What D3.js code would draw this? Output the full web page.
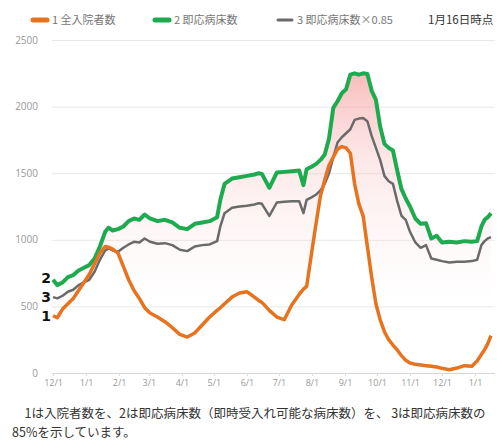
<!DOCTYPE html>
<html>
<head>
<meta charset="utf-8">
<script src="https://cdn.jsdelivr.net/npm/d3@7"></script>
<style>
  body { margin: 0; background: #fff; }
  svg { display: block; }
</style>
</head>
<body>
<div id="chart"></div>
<script>
// data (roughly every 4-7 days)
var dates = [
  "2020-12-01","2020-12-05","2020-12-10","2020-12-15","2020-12-20","2020-12-25","2020-12-30","2021-01-04","2021-01-09","2021-01-14",
  "2021-01-19","2021-01-22","2021-01-26","2021-01-31","2021-02-05","2021-02-10","2021-02-15","2021-02-20","2021-02-25","2021-03-02",
  "2021-03-09","2021-03-16","2021-03-23","2021-03-30","2021-04-06","2021-04-13","2021-04-20","2021-04-27","2021-05-04","2021-05-07",
  "2021-05-11","2021-05-18","2021-05-25","2021-06-01","2021-06-08","2021-06-12","2021-06-15","2021-06-22","2021-06-29","2021-07-06",
  "2021-07-13","2021-07-20","2021-07-24","2021-07-27","2021-08-01","2021-08-05","2021-08-09","2021-08-13","2021-08-17","2021-08-21",
  "2021-08-25","2021-08-29","2021-09-02","2021-09-06","2021-09-10","2021-09-14","2021-09-18","2021-09-22","2021-09-26","2021-09-30",
  "2021-10-04","2021-10-08","2021-10-12","2021-10-16","2021-10-20","2021-10-24","2021-10-28","2021-11-01","2021-11-06","2021-11-11",
  "2021-11-16","2021-11-21","2021-11-26","2021-12-01","2021-12-08","2021-12-15","2021-12-22","2021-12-29","2022-01-03","2022-01-07",
  "2022-01-10","2022-01-13","2022-01-16"
];
var inpatients = [
  430,415,480,520,560,620,680,740,820,900,
  950,945,930,900,800,700,620,560,490,450,
  420,385,340,290,270,300,360,420,470,490,
  520,570,600,610,570,545,530,470,420,400,
  510,590,630,650,920,1130,1330,1450,1560,1620,
  1680,1700,1690,1650,1420,1270,1180,950,720,520,
  400,310,250,210,173,130,95,75,65,60,
  55,50,45,35,25,37,55,50,90,140,
  175,220,280
];
var beds = [
  700,660,680,720,735,770,790,810,860,950,
  1060,1090,1070,1080,1100,1140,1160,1150,1190,1160,
  1140,1150,1130,1090,1080,1120,1130,1140,1170,1300,
  1420,1460,1470,1480,1490,1500,1495,1390,1505,1510,
  1515,1520,1410,1530,1550,1570,1600,1640,1760,1990,
  2040,2100,2130,2240,2250,2240,2250,2245,2120,2050,
  1850,1720,1690,1670,1520,1380,1310,1250,1160,1120,
  1125,1010,1030,980,985,980,990,985,990,1100,
  1150,1170,1200
];
var beds85 = [
  570,560,580,610,625,660,680,700,760,850,
  920,935,920,910,940,965,985,980,1010,985,
  970,975,960,925,915,950,960,965,990,1100,
  1200,1240,1250,1255,1265,1275,1270,1180,1280,1285,
  1290,1290,1200,1300,1320,1340,1370,1420,1500,1620,
  1730,1770,1800,1830,1900,1910,1915,1890,1780,1690,
  1600,1480,1440,1420,1290,1180,1150,1060,980,940,
  960,860,850,840,830,835,835,840,850,960,
  990,1010,1020
];
var yTicks = [0, 500, 1000, 1500, 2000, 2500];
var seriesNames = ["1 全入院者数", "2 即応病床数", "3 即応病床数×0.85"];
var seriesColors = ["#e8731e", "#1eab50", "#6a6a6a"];
var lineLabels = ["1", "2", "3"];
var asOf = "1月16日時点";
var caption = [
  "\u30001は入院者数を、2は即応病床数（即時受入れ可能な病床数）を、 3は即応病床数の",
  "85%を示しています。"
];

var W = 497, H = 444;
var parse = d3.timeParse("%Y-%m-%d");
var rows = dates.map(function (d, i) {
  return { date: parse(d), a: inpatients[i], b: beds[i], c: beds85[i] };
});

var svg = d3.select("#chart").append("svg")
  .attr("width", W)
  .attr("height", H);

var x = d3.scaleTime()
  .domain([parse("2020-12-01"), parse("2022-01-16")])
  .range([53, 491]);
var y = d3.scaleLinear()
  .domain([0, 2500])
  .range([373, 40]);

// gridlines + y labels
svg.append("g")
  .selectAll("line")
  .data(yTicks)
  .enter()
  .append("line")
  .attr("x1", 52).attr("x2", 495)
  .attr("y1", function (d) { return y(d) + 0.5; })
  .attr("y2", function (d) { return y(d) + 0.5; })
  .attr("stroke", function (d) { return d === 0 ? "#d6d6d6" : "#e8e8e8"; })
  .attr("stroke-width", 1);

svg.append("g")
  .selectAll("text")
  .data(yTicks)
  .enter()
  .append("text")
  .attr("x", 38)
  .attr("y", function (d) { return y(d) + 3.5; })
  .attr("text-anchor", "end")
  .style("font-family", "'Open Sans', 'Noto Sans', sans-serif")
  .style("font-size", "10px")
  .style("fill", "#999")
  .text(function (d) { return d; });

// x axis
var xAxis = d3.axisBottom(x)
  .tickValues(d3.timeMonth.range(parse("2020-12-01"), parse("2022-01-02")))
  .tickFormat(d3.timeFormat("%-m/%-d"))
  .tickSize(3)
  .tickPadding(4);
var gx = svg.append("g")
  .attr("transform", "translate(0," + 373 + ")")
  .call(xAxis);
gx.select(".domain").remove();
gx.selectAll(".tick line").attr("stroke", "#ddd");
gx.selectAll(".tick text")
  .style("font-family", "'Open Sans', 'Noto Sans', sans-serif")
  .style("font-size", "9px")
  .style("fill", "#999");

// pink band between line 2 and line 1
var defs = svg.append("defs");
var grad = defs.append("linearGradient")
  .attr("id", "band")
  .attr("gradientUnits", "userSpaceOnUse")
  .attr("x1", 0).attr("x2", 0)
  .attr("y1", y(2300)).attr("y2", y(500));
grad.append("stop").attr("offset", "0%").attr("stop-color", "#f48a8a").attr("stop-opacity", 0.6);
grad.append("stop").attr("offset", "40%").attr("stop-color", "#f6b0b0").attr("stop-opacity", 0.28);
grad.append("stop").attr("offset", "100%").attr("stop-color", "#fbdede").attr("stop-opacity", 0);

var area = d3.area()
  .x(function (d) { return x(d.date); })
  .y0(function (d) { return y(d.a); })
  .y1(function (d) { return y(d.b); });
svg.append("path")
  .datum(rows)
  .attr("d", area)
  .attr("fill", "url(#band)");

// lines
var lineOf = function (key) {
  return d3.line()
    .x(function (d) { return x(d.date); })
    .y(function (d) { return y(d[key]); });
};
svg.append("path").datum(rows).attr("d", lineOf("b"))
  .attr("fill", "none").attr("stroke", seriesColors[1]).attr("stroke-width", 4)
  .attr("stroke-linejoin", "round");
svg.append("path").datum(rows).attr("d", lineOf("c"))
  .attr("fill", "none").attr("stroke", seriesColors[2]).attr("stroke-width", 2.5)
  .attr("stroke-linejoin", "round");
svg.append("path").datum(rows).attr("d", lineOf("a"))
  .attr("fill", "none").attr("stroke", seriesColors[0]).attr("stroke-width", 3.5)
  .attr("stroke-linejoin", "round");

// 1 / 2 / 3 labels at the start of each line
var startVals = [inpatients[0], beds[0] + 15, beds85[0]];
svg.append("g")
  .selectAll("text")
  .data(lineLabels)
  .enter()
  .append("text")
  .attr("x", 46)
  .attr("y", function (d, i) { return y(startVals[i]) + 5; })
  .attr("text-anchor", "middle")
  .style("font-family", "'DejaVu Sans', sans-serif")
  .style("font-weight", "bold")
  .style("font-size", "14px")
  .style("fill", "#111")
  .text(function (d) { return d; });

// legend
var legendX = [33, 155, 278];
var leg = svg.append("g")
  .selectAll("g")
  .data(seriesNames)
  .enter()
  .append("g")
  .attr("transform", function (d, i) { return "translate(" + legendX[i] + ",20)"; });
leg.append("line")
  .attr("x1", 0).attr("x2", 14)
  .attr("y1", 0).attr("y2", 0)
  .attr("stroke", function (d, i) { return seriesColors[i]; })
  .attr("stroke-width", function (d, i) { return i === 2 ? 3 : 5; })
  .attr("stroke-linecap", "round");
leg.append("text")
  .attr("x", 19)
  .attr("y", 4)
  .style("font-family", "'Noto Sans CJK JP', sans-serif")
  .style("font-size", "11px")
  .style("fill", "#777")
  .text(function (d) { return d; });

svg.append("text")
  .attr("x", 428)
  .attr("y", 24)
  .style("font-family", "'Noto Sans CJK JP', sans-serif")
  .style("font-size", "11.5px")
  .style("fill", "#333")
  .text(asOf);

// caption under the chart
svg.append("g")
  .selectAll("text")
  .data(caption)
  .enter()
  .append("text")
  .attr("x", 12)
  .attr("y", function (d, i) { return 418 + i * 19; })
  .style("font-family", "'Noto Sans CJK JP', sans-serif")
  .style("font-size", "12.5px")
  .style("fill", "#333")
  .text(function (d) { return d; });
</script>
</body>
</html>
